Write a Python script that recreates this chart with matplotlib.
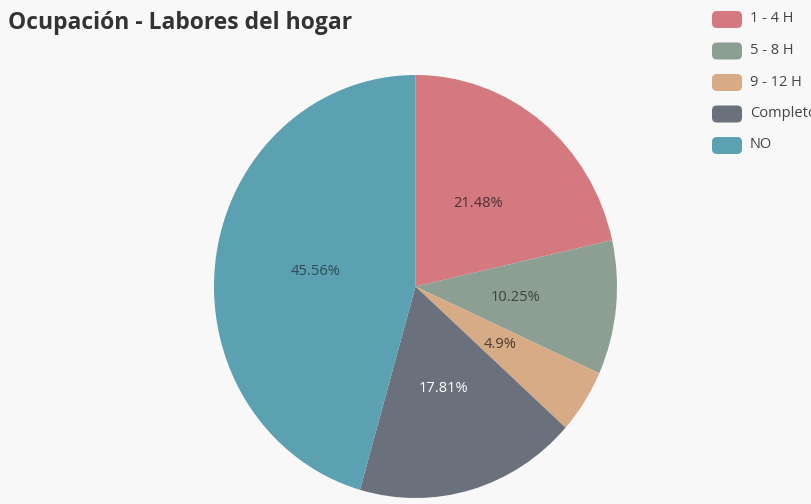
import matplotlib.pyplot as plt
from matplotlib.patches import FancyBboxPatch

# datos
categorias = ["1 - 4 H", "5 - 8 H", "9 - 12 H", "Completo", "NO"]
porcentajes = [21.48, 10.25, 4.9, 17.81, 45.56]
colores = ["#d4797f", "#8c9f92", "#d6ab85", "#6a707c", "#5ba1b1"]
color_texto = ["#4a3034", "#3a4540", "#4a3a2a", "#ffffff", "#2f4a52"]
titulo = "Ocupación - Labores del hogar"

W, H = 812, 504
fig = plt.figure(figsize=(W / 100, H / 100), dpi=100)
fig.patch.set_facecolor("#f8f8f8")

# posicion del pastel en pixeles (un poco ovalado como en la imagen)
x0, x1 = 214, 617
y0, y1 = 75, 498
ax = fig.add_axes([x0 / W, 1 - y1 / H, (x1 - x0) / W, (y1 - y0) / H])
ax.set_facecolor("none")

wedges, textos, autotextos = ax.pie(
    porcentajes, colors=colores, startangle=90, counterclock=False,
    autopct=lambda p: f"{p:.4g}%", pctdistance=0.5,
    wedgeprops={"linewidth": 0},
    textprops={"fontsize": 10.5, "family": "Open Sans"},
)
for t, c in zip(autotextos, color_texto):
    t.set_color(c)
ax.set_aspect("auto")
ax.set_xlim(-1, 1)
ax.set_ylim(-1, 1)

fig.text(8 / W, 1 - 23 / H, titulo, fontsize=16.5, fontweight="bold",
         family="Open Sans", color="#333333", va="center", ha="left")

# leyenda manual (el texto "Completo" queda cortado en el borde, como en el original)
for i, (cat, col) in enumerate(zip(categorias, colores)):
    yc = 19 + i * 31.5
    caja = FancyBboxPatch(((712) / W, 1 - (yc + 9) / H), 30 / W, 17 / H,
                          boxstyle="round,pad=0,rounding_size=0.006",
                          transform=fig.transFigure, facecolor=col,
                          edgecolor="none", mutation_aspect=W / H)
    fig.patches.append(caja)
    fig.text(750 / W, 1 - yc / H, cat, fontsize=10.5, family="Open Sans",
             color="#444444", va="center", ha="left")

fig.savefig("out.png", dpi=100, facecolor=fig.get_facecolor())
